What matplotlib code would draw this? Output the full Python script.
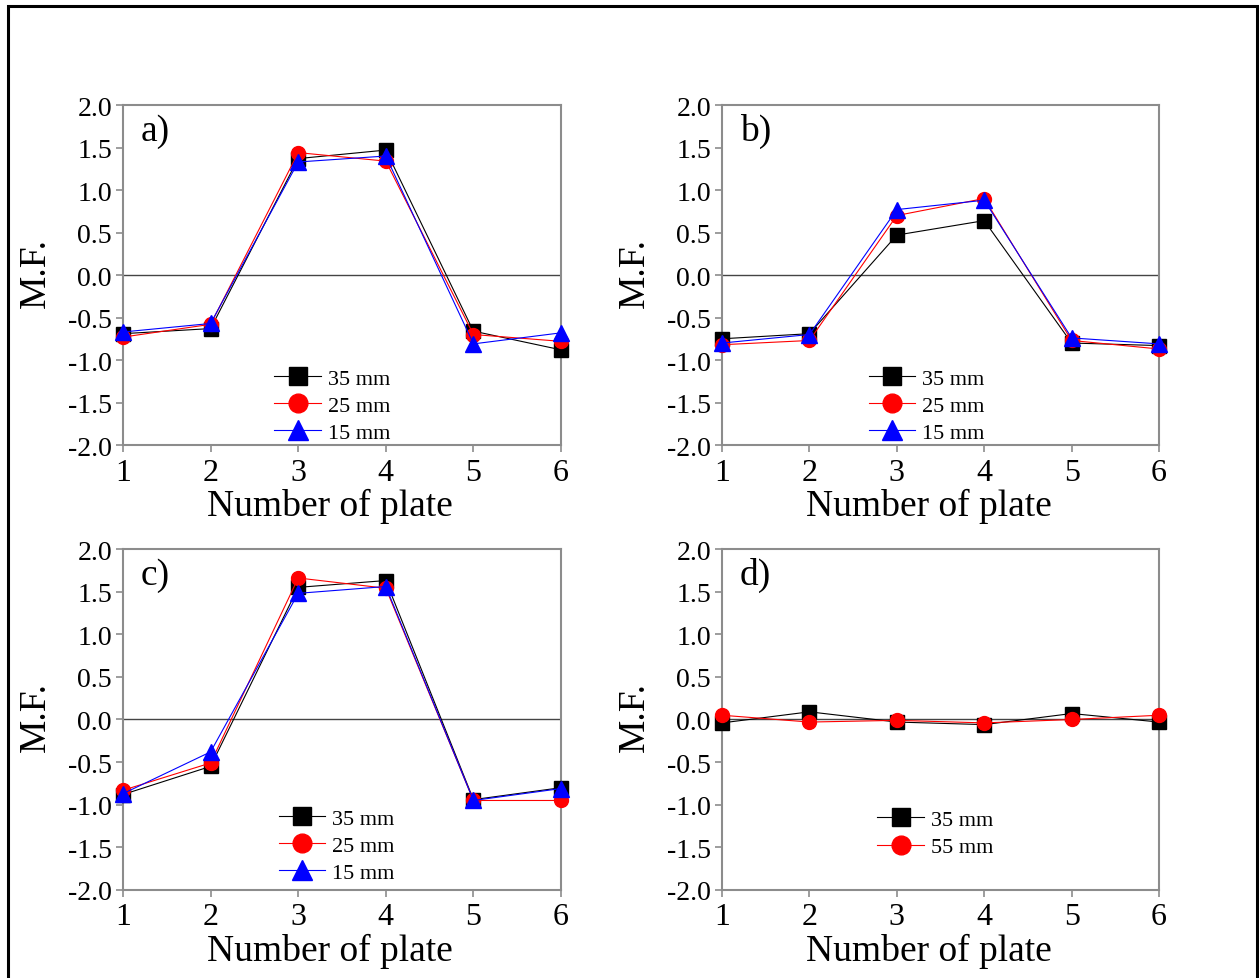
import matplotlib
matplotlib.use("Agg")
import matplotlib.pyplot as plt
from matplotlib.patches import Rectangle

plt.rcParams["font.family"] = ["Liberation Serif", "DejaVu Serif"]

plates = [1, 2, 3, 4, 5, 6]

# panel a
a_35 = [-0.69, -0.63, 1.37, 1.47, -0.66, -0.88]
a_25 = [-0.73, -0.58, 1.44, 1.34, -0.70, -0.78]
a_15 = [-0.67, -0.57, 1.33, 1.40, -0.81, -0.68]

# panel b
b_35 = [-0.75, -0.69, 0.47, 0.64, -0.80, -0.83]
b_25 = [-0.82, -0.77, 0.70, 0.90, -0.77, -0.87]
b_15 = [-0.80, -0.70, 0.77, 0.88, -0.74, -0.81]

# panel c
c_35 = [-0.88, -0.55, 1.55, 1.63, -0.94, -0.80]
c_25 = [-0.83, -0.51, 1.66, 1.54, -0.95, -0.95]
c_15 = [-0.87, -0.38, 1.48, 1.56, -0.95, -0.81]

# panel d
d_35 = [-0.04, 0.09, -0.03, -0.06, 0.07, -0.03]
d_55 = [0.05, -0.03, -0.01, -0.04, 0.00, 0.05]

yticks = [-2.0, -1.5, -1.0, -0.5, 0.0, 0.5, 1.0, 1.5, 2.0]

SPINE = "#8c8c8c"
STYLE = {
    "35 mm": dict(color="black", marker="s", ms=9.5),
    "25 mm": dict(color="red", marker="o", ms=10),
    "15 mm": dict(color="blue", marker="^", ms=11),
    "55 mm": dict(color="red", marker="o", ms=10),
}

panels = [
    ("a)", [("35 mm", a_35), ("25 mm", a_25), ("15 mm", a_15)], (0.31, -0.04)),
    ("b)", [("35 mm", b_35), ("25 mm", b_25), ("15 mm", b_15)], (0.30, -0.04)),
    ("c)", [("35 mm", c_35), ("25 mm", c_25), ("15 mm", c_15)], (0.32, -0.025)),
    ("d)", [("35 mm", d_35), ("55 mm", d_55)], (0.32, 0.05)),
]

positions = [
    [0.0977, 0.5444, 0.3479, 0.3473],
    [0.5735, 0.5444, 0.3471, 0.3473],
    [0.0977, 0.0899, 0.3479, 0.3483],
    [0.5735, 0.0899, 0.3471, 0.3483],
]

fig = plt.figure(figsize=(12.59, 9.79), dpi=100)

# outer frame around the whole figure
fig.patches.append(Rectangle((8 / 1259, -0.05), 1249 / 1259, 1 - 7 / 979 + 0.05,
                             transform=fig.transFigure, fill=False,
                             edgecolor="black", linewidth=2.2))

for (label, series, anchor), pos in zip(panels, positions):
    ax = fig.add_axes(pos)
    ax.axhline(0, color="#444444", linewidth=1.0, zorder=1)
    for name, vals in series:
        st = STYLE[name]
        ax.plot(plates, vals, color=st["color"], marker=st["marker"],
                markersize=st["ms"], markerfacecolor=st["color"],
                markeredgecolor=st["color"], linewidth=0.8, label=name,
                clip_on=False, zorder=3)

    ax.set_xlim(1, 6)
    ax.set_ylim(-2.0, 2.0)
    ax.set_xticks(plates)
    ax.set_yticks(yticks)
    ax.set_yticklabels([f"{v:.1f}" for v in yticks])
    ax.tick_params(axis="both", direction="out", length=5, width=1.2,
                   color=SPINE, top=False, right=False)
    ax.tick_params(axis="y", labelsize=20, pad=3)
    ax.tick_params(axis="x", labelsize=23, pad=4)
    for sp in ax.spines.values():
        sp.set_color(SPINE)
        sp.set_linewidth(1.5)

    ax.set_xlabel("Number of plate", fontsize=27)
    ax.xaxis.set_label_coords(0.473, -0.125)
    ax.set_ylabel("M.F.", fontsize=27)
    ax.yaxis.set_label_coords(-0.16, 0.51)
    ax.text(0.04, 0.925, label, transform=ax.transAxes, fontsize=27,
            va="center", ha="left")

    ax.legend(loc="lower left", bbox_to_anchor=anchor, frameon=False,
              fontsize=16, markerscale=1.35, handlelength=2.1,
              handletextpad=0.3, labelspacing=0.3, borderpad=0.2)

plt.savefig("out.png", dpi=100)
plt.close()
